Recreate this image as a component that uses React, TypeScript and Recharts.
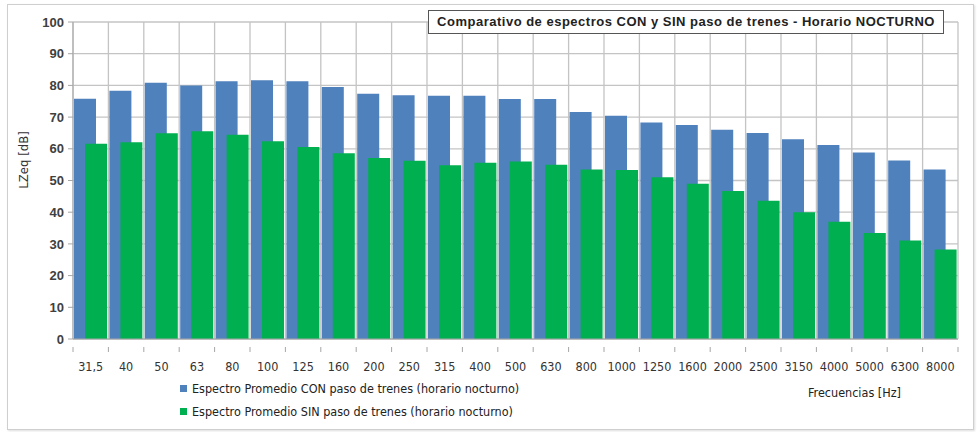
import React from 'react';
import { BarChart, Bar, XAxis, YAxis, CartesianGrid } from 'recharts';

const frecuencias = ['31,5', '40', '50', '63', '80', '100', '125', '160', '200', '250', '315', '400', '500', '630', '800', '1000', '1250', '1600', '2000', '2500', '3150', '4000', '5000', '6300', '8000'];
const conTrenes = [75.8, 78.3, 80.8, 80.0, 81.3, 81.6, 81.3, 79.5, 77.4, 76.9, 76.7, 76.7, 75.7, 75.7, 71.6, 70.4, 68.3, 67.5, 66.0, 65.0, 63.0, 61.2, 58.8, 56.3, 53.5];
const sinTrenes = [61.6, 62.1, 64.9, 65.5, 64.4, 62.4, 60.6, 58.6, 57.1, 56.2, 54.8, 55.6, 56.0, 55.0, 53.5, 53.3, 51.0, 49.0, 46.7, 43.6, 40.0, 37.0, 33.4, 31.1, 28.2];
const yTicks = [0, 10, 20, 30, 40, 50, 60, 70, 80, 90, 100];

const data = frecuencias.map((f, i) => ({ f, con: conTrenes[i], sin: sinTrenes[i] }));

const W = 977;
const H = 432;
const PLOT_LEFT = 73;
const PLOT_RIGHT = 958;
const BAND = (PLOT_RIGHT - PLOT_LEFT) / frecuencias.length;
const FONT = '"Liberation Sans Narrow", "DejaVu Sans Condensed", "DejaVu Sans", sans-serif';

// tick label plus small tick mark at the left edge of the band
const FreqTick = (props: any) => {
  const { x, y, payload, index } = props;
  const last = index === frecuencias.length - 1;
  return (
    <g>
      <line x1={x - BAND / 2} x2={x - BAND / 2} y1={y} y2={y + 5} stroke="#a6a6a6" />
      {last && <line x1={x + BAND / 2} x2={x + BAND / 2} y1={y} y2={y + 5} stroke="#a6a6a6" />}
      <text x={x} y={y + 24} textAnchor="middle" fontSize={12.5} fill="#333" fontFamily={FONT} fontStretch="condensed">
        {payload.value}
      </text>
    </g>
  );
};

export default function App() {
  return (
    <div style={{ position: 'fixed', left: 0, top: 0, width: W, height: H, background: '#fff' }}>
      <div style={{ position: 'absolute', left: 7, top: 4, width: 965, height: 424, border: '1px solid #cfcfcf', boxShadow: '1px 1px 2px #ddd' }} />
      <div style={{ position: 'absolute', left: 0, top: 0 }}>
        <BarChart width={W} height={H} data={data} margin={{ top: 22, right: W - PLOT_RIGHT, left: 40, bottom: 0 }} barSize={22} barGap={-11}>
          <CartesianGrid
            stroke="#c4c4c4"
            strokeWidth={1.3}
            verticalCoordinatesGenerator={({ offset }: any) =>
              frecuencias.map((_, i) => offset.left + (i * offset.width) / frecuencias.length).concat([offset.left + offset.width])
            }
          />
          <XAxis
            dataKey="f"
            height={H - 339}
            tickLine={false}
            axisLine={{ stroke: '#a6a6a6' }}
            tick={<FreqTick />}
            interval={0}
          />
          <YAxis
            width={33}
            domain={[0, 100]}
            ticks={yTicks}
            tickSize={5}
            tickMargin={4}
            axisLine={{ stroke: '#a6a6a6' }}
            tickLine={{ stroke: '#a6a6a6' }}
            tick={{ fontSize: 13, fontWeight: 'bold', fill: '#404040', fontFamily: '"Liberation Sans", Arial, sans-serif' }}
          />
          <Bar dataKey="con" fill="#4f81bd" isAnimationActive={false} />
          <Bar dataKey="sin" fill="#00b050" isAnimationActive={false} />
        </BarChart>
      </div>
      <div style={{ position: 'absolute', left: 16, top: 160, transform: 'translate(-50%, -50%) rotate(-90deg)', transformOrigin: 'center', fontFamily: FONT, fontSize: 13, color: '#333', whiteSpace: 'nowrap', marginLeft: 7 }}>
        LZeq [dB]
      </div>
      <div style={{ position: 'absolute', left: 428, top: 10, width: 514, height: 22, border: '1px solid #555', background: '#fff', fontFamily: '"Liberation Sans", Arial, sans-serif', fontWeight: 'bold', fontSize: 13, letterSpacing: 0.5, color: '#222', textAlign: 'center', lineHeight: '22px', whiteSpace: 'nowrap' }}>
        Comparativo de espectros CON y SIN paso de trenes - Horario NOCTURNO
      </div>
      <div style={{ position: 'absolute', left: 180, top: 377, fontFamily: FONT, fontSize: 12.5, color: '#222', lineHeight: '23px' }}>
        <div style={{ display: 'flex', alignItems: 'center' }}>
          <span style={{ width: 7, height: 7, background: '#4f81bd', display: 'inline-block', marginRight: 5 }} />
          Espectro Promedio CON paso de trenes (horario nocturno)
        </div>
        <div style={{ display: 'flex', alignItems: 'center' }}>
          <span style={{ width: 7, height: 7, background: '#00b050', display: 'inline-block', marginRight: 5 }} />
          Espectro Promedio SIN paso de trenes (horario nocturno)
        </div>
      </div>
      <div style={{ position: 'absolute', left: 808, top: 385, fontFamily: FONT, fontSize: 12.5, color: '#222' }}>
        Frecuencias [Hz]
      </div>
    </div>
  );
}
